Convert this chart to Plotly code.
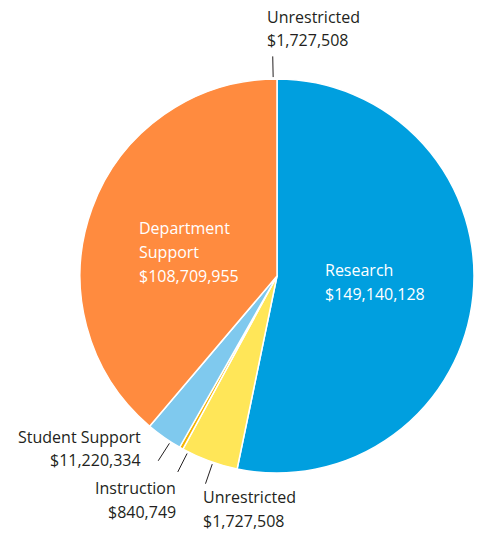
import math
import plotly.graph_objects as go

W, H = 478, 533

# Data
slice_names = ["Research", "Unrestricted", "Instruction", "Student Support",
               "Department Support", "Unrestricted"]
# slice sizes as drawn in the picture
slice_values = [149140128, 11400000, 840749, 8300000, 108709955, 1727508]
# amounts as printed on the labels
amount_labels = ["$149,140,128", "$1,727,508", "$840,749", "$11,220,334",
                 "$108,709,955", "$1,727,508"]
colors = ["#009FDF", "#FFE658", "#F5B400", "#7FC9EE", "#FF8B3F", "#F9B8DC"]

# Geometry (pixels)
cx, cy, R = 277, 276, 197
dom_x = [(cx - R) / W, (cx + R) / W]
dom_y = [1 - (cy + R) / H, 1 - (cy - R) / H]

def px(x, y):
    return x / W, 1 - y / H

fig = go.Figure(go.Pie(
    values=slice_values,
    labels=[f"{n} {a}" for n, a in zip(slice_names, amount_labels)],
    sort=False, direction="clockwise", rotation=0,
    marker=dict(colors=colors, line=dict(color="white", width=1.5)),
    textinfo="none", hoverinfo="label", showlegend=False,
    domain=dict(x=dom_x, y=dom_y),
))

# leader lines for the small slices, at their mid-angles
total = sum(slice_values)
cum = 0
mids = []
for v in slice_values:
    mids.append((cum + v / 2) / total * 2 * math.pi)
    cum += v

shapes = []
for i in [1, 2, 3, 5]:
    th = mids[i]
    r1, r2 = R * 1.01, R * 1.115
    x1, y1 = px(cx + r1 * math.sin(th), cy - r1 * math.cos(th))
    x2, y2 = px(cx + r2 * math.sin(th), cy - r2 * math.cos(th))
    shapes.append(dict(type="line", xref="paper", yref="paper",
                       x0=x1, y0=y1, x1=x2, y1=y2,
                       line=dict(color="#231F20", width=1)))

FONT = "Open Sans"
dark = "#231F20"
annotations = []

def add(text, x, y, anchor, color):
    X, Y = px(x, y)
    annotations.append(dict(text=text, x=X, y=Y, xref="paper", yref="paper",
                            xanchor=anchor, yanchor="middle", showarrow=False,
                            font=dict(family=FONT, size=16, color=color)))

# inside labels
add("Research", 323, 270, "left", "white")
add(amount_labels[0], 323, 294, "left", "white")
add("Department", 137, 228, "left", "white")
add("Support", 137, 252, "left", "white")
add(amount_labels[4], 137, 276, "left", "white")
# outside labels
add("Unrestricted", 265, 17, "left", dark)
add(amount_labels[5], 265, 40, "left", dark)
add("Student Support", 143, 437, "right", dark)
add(amount_labels[3], 143, 460, "right", dark)
add("Instruction", 178, 488, "right", dark)
add(amount_labels[2], 178, 512, "right", dark)
add("Unrestricted", 201, 497, "left", dark)
add(amount_labels[1], 201, 521, "left", dark)

fig.update_layout(
    width=W, height=H,
    margin=dict(l=0, r=0, t=0, b=0),
    paper_bgcolor="white", plot_bgcolor="white",
    shapes=shapes, annotations=annotations,
)

fig.write_html(
    "out.html",
    config={"displayModeBar": False},
    post_script="document.body.style.margin='0';document.body.style.overflow='hidden';",
)
